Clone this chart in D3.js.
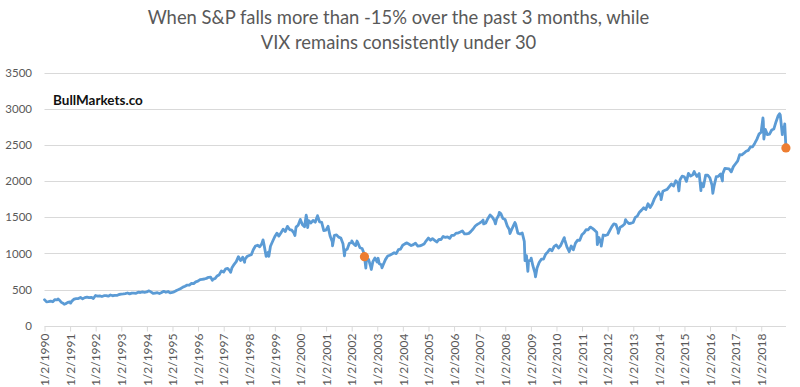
<!DOCTYPE html>
<html>
<head>
<meta charset="utf-8">
<script src="https://cdn.jsdelivr.net/npm/d3@7"></script>
<style>
  html, body { margin: 0; padding: 0; background: #fff; }
  svg { display: block; }
</style>
</head>
<body>
<svg id="chart" width="800" height="387"></svg>
<script>
// ---------------- DATA ----------------
const titleLines = [
  "When S&P falls more than -15% over the past 3 months, while",
  "VIX remains consistently under 30"
];
const watermark = "BullMarkets.co";

// Month-end S&P 500 closes, Jan 1990 .. Nov 2018
const monthlyClose = [
  /*1990*/ 329.1, 331.9, 339.9, 330.8, 361.2, 358.0, 356.2, 322.6, 306.1, 304.0, 322.2, 330.2,
  /*1991*/ 343.9, 367.1, 375.2, 375.3, 389.8, 371.2, 387.8, 395.4, 387.9, 392.5, 375.2, 417.1,
  /*1992*/ 408.8, 412.7, 403.7, 414.9, 415.4, 408.1, 424.2, 414.0, 417.8, 418.7, 431.4, 435.7,
  /*1993*/ 438.8, 443.4, 451.7, 440.2, 450.2, 450.5, 448.1, 463.6, 458.9, 467.8, 461.8, 466.5,
  /*1994*/ 481.6, 467.1, 445.8, 450.9, 456.5, 444.3, 458.3, 475.5, 462.7, 472.4, 453.7, 459.3,
  /*1995*/ 470.4, 487.4, 500.7, 514.7, 533.4, 544.8, 562.1, 561.9, 584.4, 581.5, 605.4, 615.9,
  /*1996*/ 636.0, 640.4, 645.5, 654.2, 669.1, 670.6, 639.9, 652.0, 687.3, 705.3, 757.0, 740.7,
  /*1997*/ 786.2, 790.8, 757.1, 801.3, 848.3, 885.1, 954.3, 899.5, 947.3, 914.6, 955.4, 970.4,
  /*1998*/ 980.3, 1049.3, 1101.8, 1111.8, 1090.8, 1133.8, 1120.7, 957.3, 1017.0, 1098.7, 1163.6, 1229.2,
  /*1999*/ 1279.6, 1238.3, 1286.4, 1335.2, 1301.8, 1372.7, 1328.7, 1320.4, 1282.7, 1362.9, 1389.0, 1469.3,
  /*2000*/ 1394.5, 1366.4, 1498.6, 1452.4, 1420.6, 1454.6, 1430.8, 1517.7, 1436.5, 1429.4, 1315.2, 1320.3,
  /*2001*/ 1366.0, 1239.9, 1160.3, 1249.5, 1255.8, 1224.4, 1211.2, 1133.6, 1040.9, 1059.8, 1139.5, 1148.1,
  /*2002*/ 1130.2, 1106.7, 1147.4, 1076.9, 1067.1, 989.8, 911.6, 916.1, 815.3, 885.8, 936.3, 879.8,
  /*2003*/ 855.7, 841.2, 848.2, 916.9, 963.6, 974.5, 990.3, 1008.0, 996.0, 1050.7, 1058.2, 1111.9,
  /*2004*/ 1131.1, 1144.9, 1126.2, 1107.3, 1120.7, 1140.8, 1101.7, 1104.2, 1114.6, 1130.2, 1173.8, 1211.9,
  /*2005*/ 1181.3, 1203.6, 1180.6, 1156.9, 1191.5, 1191.3, 1234.2, 1220.3, 1228.8, 1207.0, 1249.5, 1248.3,
  /*2006*/ 1280.1, 1280.7, 1294.8, 1310.6, 1270.1, 1270.2, 1276.7, 1303.8, 1335.9, 1377.9, 1400.6, 1418.3,
  /*2007*/ 1438.2, 1406.8, 1420.9, 1482.4, 1530.6, 1503.4, 1455.3, 1474.0, 1526.8, 1549.4, 1481.1, 1468.4,
  /*2008*/ 1378.6, 1330.6, 1322.7, 1385.6, 1400.4, 1280.0, 1267.4, 1282.8, 1166.4, 968.8, 896.2, 903.3,
  /*2009*/ 825.9, 735.1, 797.9, 872.8, 919.1, 919.3, 987.5, 1020.6, 1057.1, 1036.2, 1095.6, 1115.1,
  /*2010*/ 1073.9, 1104.5, 1169.4, 1186.7, 1089.4, 1030.7, 1101.6, 1049.3, 1141.2, 1183.3, 1180.6, 1257.6,
  /*2011*/ 1286.1, 1327.2, 1325.8, 1363.6, 1345.2, 1320.6, 1292.3, 1218.9, 1131.4, 1253.3, 1247.0, 1257.6,
  /*2012*/ 1312.4, 1365.7, 1408.5, 1397.9, 1310.3, 1362.2, 1379.3, 1406.6, 1440.7, 1412.2, 1416.2, 1426.2,
  /*2013*/ 1498.1, 1514.7, 1569.2, 1597.6, 1630.7, 1606.3, 1685.7, 1633.0, 1681.6, 1756.5, 1805.8, 1848.4,
  /*2014*/ 1782.6, 1859.5, 1872.3, 1884.0, 1923.6, 1960.2, 1930.7, 2003.4, 1972.3, 2018.1, 2067.6, 2058.9,
  /*2015*/ 1995.0, 2104.5, 2067.9, 2085.5, 2107.4, 2063.1, 2103.8, 1972.2, 1920.0, 2079.4, 2080.4, 2043.9,
  /*2016*/ 1940.2, 1932.2, 2059.7, 2065.3, 2097.0, 2098.9, 2173.6, 2171.0, 2168.3, 2126.2, 2199.0, 2238.8,
  /*2017*/ 2278.9, 2363.6, 2362.7, 2384.2, 2411.8, 2423.4, 2470.3, 2471.7, 2519.4, 2575.3, 2647.6, 2673.6,
  /*2018*/ 2823.8, 2713.8, 2640.9, 2648.1, 2705.3, 2718.4, 2816.3, 2901.5, 2914.0, 2711.7, 2760.2
];

// Intra-month turning points (dates and values)
const extraDates = [
  "1990-01-02","1990-07-16","1990-10-11","1991-01-09","1994-02-02","1996-07-24","1997-04-11",
  "1997-10-27","1998-07-17","1998-10-08","1999-10-15","2000-03-24","2000-04-14","2000-09-01",
  "2001-01-30","2001-04-04","2001-09-21","2002-01-04","2002-03-19","2002-07-03","2002-07-23",
  "2002-10-09","2003-01-14","2003-03-11","2007-02-20","2007-08-15","2007-10-09","2008-03-10",
  "2008-05-19","2008-10-10","2008-11-20","2009-01-06","2009-03-09","2010-04-23","2010-07-02",
  "2011-04-29","2011-08-08","2011-10-03","2012-06-01","2012-09-14","2014-02-03","2014-10-15",
  "2015-05-21","2015-08-25","2016-02-11","2016-06-27","2018-01-26","2018-02-08","2018-09-20",
  "2018-10-29","2018-12-03","2018-12-20"
];
const extraValues = [
  359.7, 369.0, 295.5, 311.5, 482.0, 626.7, 737.7,
  877.0, 1186.8, 959.4, 1247.4, 1527.5, 1356.6, 1520.8,
  1373.7, 1103.3, 965.8, 1172.5, 1170.3, 954.0, 797.7,
  776.8, 931.7, 800.7, 1459.7, 1406.7, 1565.2, 1273.4,
  1426.6, 899.2, 752.4, 934.7, 676.5, 1217.3, 1022.6,
  1363.6, 1119.5, 1099.2, 1278.0, 1465.8, 1741.9, 1862.5,
  2130.8, 1867.6, 1829.1, 2000.5, 2872.9, 2581.0, 2930.8,
  2641.3, 2790.4, 2458.0
];

// Highlighted signal points
const signalDates = ["2002-07-03", "2018-12-20"];
const signalValues = [954.0, 2458.0];

const yTicks = [0, 500, 1000, 1500, 2000, 2500, 3000, 3500];
const xTickLabels = [
  "1/2/1990","1/2/1991","1/2/1992","1/2/1993","1/2/1994","1/2/1995","1/2/1996","1/2/1997",
  "1/2/1998","1/2/1999","1/2/2000","1/2/2001","1/2/2002","1/2/2003","1/2/2004","1/2/2005",
  "1/2/2006","1/2/2007","1/2/2008","1/2/2009","1/2/2010","1/2/2011","1/2/2012","1/2/2013",
  "1/2/2014","1/2/2015","1/2/2016","1/2/2017","1/2/2018"
];

// ---------------- BUILD ----------------
const parseISO = d3.timeParse("%Y-%m-%d");
const parseLabel = d3.timeParse("%-m/%-d/%Y");

const series = [];
monthlyClose.forEach((v, i) => {
  series.push({ date: new Date(1990, i + 1, 0), value: v });
});
extraDates.forEach((d, i) => series.push({ date: parseISO(d), value: extraValues[i] }));
series.sort((a, b) => a.date - b.date);

const signals = signalDates.map((d, i) => ({ date: parseISO(d), value: signalValues[i] }));

const svg = d3.select("#chart");
const plot = { left: 44.5, right: 786, top: 72.5, bottom: 325.7 };

const x = d3.scaleTime()
  .domain([parseISO("1990-01-02"), parseISO("2018-12-21")])
  .range([plot.left, plot.right]);
const y = d3.scaleLinear().domain([0, 3500]).range([plot.bottom, plot.top]);

const font = "Lato, 'Open Sans', sans-serif";
const textColor = "#595959";
const gridColor = "#d9d9d9";

// Title
svg.append("g").selectAll("text").data(titleLines).join("text")
  .attr("x", 398.5)
  .attr("y", (d, i) => 24 + i * 25)
  .attr("text-anchor", "middle")
  .attr("font-family", font)
  .attr("font-size", 18.4)
  .attr("fill", textColor)
  .text(d => d);

// Gridlines
svg.append("g").selectAll("line").data(yTicks.filter(t => t > 0)).join("line")
  .attr("x1", plot.left).attr("x2", plot.right)
  .attr("y1", d => Math.round(y(d)) + 0.5).attr("y2", d => Math.round(y(d)) + 0.5)
  .attr("stroke", gridColor).attr("stroke-width", 1);

// Y axis labels
const yAxis = d3.axisLeft(y).tickValues(yTicks).tickFormat(d3.format("d")).tickSize(0).tickPadding(0);
const gy = svg.append("g").attr("transform", `translate(32,0)`).call(yAxis);
gy.select(".domain").remove();
gy.selectAll("text")
  .attr("font-family", font).attr("font-size", 11.5).attr("fill", textColor);

// X axis
const xTickDates = xTickLabels.map(s => parseLabel(s));
const xAxis = d3.axisBottom(x)
  .tickValues(xTickDates)
  .tickFormat((d, i) => xTickLabels[i])
  .tickSizeInner(5).tickSizeOuter(0);
const gx = svg.append("g")
  .attr("transform", `translate(0,${Math.round(plot.bottom) + 0.5})`)
  .call(xAxis);
gx.select(".domain").attr("stroke", gridColor).attr("d", `M${plot.left},0H${plot.right}`);
gx.selectAll(".tick line").attr("stroke", gridColor);
gx.selectAll(".tick text")
  .attr("font-family", font).attr("font-size", 12).attr("fill", textColor)
  .attr("transform", "rotate(-90)")
  .attr("text-anchor", "end")
  .attr("x", -7).attr("y", 0).attr("dy", "0.35em");

// Line
const line = d3.line().x(d => x(d.date)).y(d => y(d.value));
svg.append("path").datum(series)
  .attr("d", line)
  .attr("fill", "none")
  .attr("stroke", "#5b9bd5")
  .attr("stroke-width", 2.8)
  .attr("stroke-linejoin", "round")
  .attr("stroke-linecap", "round");

// Signal dots
svg.append("g").selectAll("circle").data(signals).join("circle")
  .attr("cx", d => x(d.date)).attr("cy", d => y(d.value))
  .attr("r", 4.6)
  .attr("fill", "#ed7d31");

// Watermark
svg.append("text")
  .attr("x", 53).attr("y", 105)
  .attr("font-family", font).attr("font-weight", "bold").attr("font-size", 13.5)
  .attr("fill", "#111")
  .text(watermark);
</script>
</body>
</html>
